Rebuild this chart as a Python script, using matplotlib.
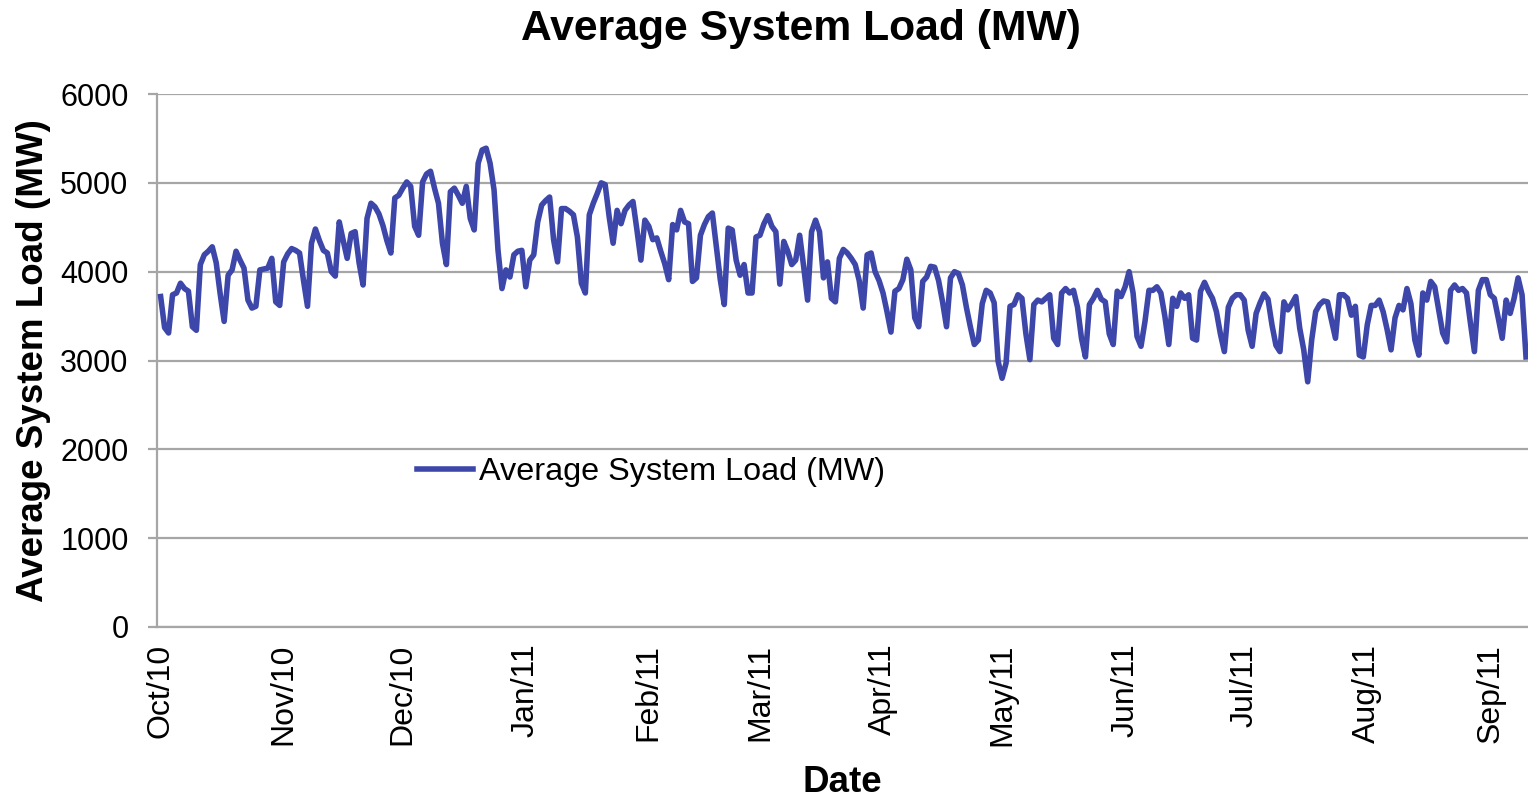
import numpy as np
import pandas as pd
import matplotlib
matplotlib.use('Agg')
import matplotlib.pyplot as plt
import matplotlib.dates as mdates

plt.rcParams['font.family'] = ['Liberation Sans', 'DejaVu Sans']

# Daily average system load (MW)
oct_10 = [3720, 3370, 3310, 3740, 3760, 3870, 3810, 3780, 3380, 3340,
          4080, 4190, 4230, 4280, 4100, 3750, 3440, 3960, 4020, 4230,
          4130, 4040, 3680, 3590, 3610, 4020, 4030, 4040, 4150, 3660, 3620]
nov_10 = [4110, 4200, 4260, 4240, 4210, 3900, 3610, 4320, 4480, 4350,
          4240, 4210, 4000, 3950, 4560, 4350, 4150, 4430, 4450, 4100,
          3850, 4600, 4770, 4730, 4650, 4520, 4350, 4210, 4830, 4860]
dec_10 = [4940, 5010, 4960, 4510, 4410, 5010, 5100, 5130, 4940, 4770,
          4320, 4080, 4900, 4940, 4860, 4770, 4960, 4600, 4470, 5220,
          5370, 5390, 5220, 4920, 4240, 3810, 4020, 3940, 4190, 4230, 4240]
jan_11 = [3830, 4130, 4190, 4560, 4750, 4800, 4840, 4360, 4110, 4710,
          4710, 4680, 4640, 4390, 3870, 3760, 4640, 4770, 4880, 5000,
          4980, 4620, 4320, 4690, 4540, 4690, 4750, 4790, 4470, 4130, 4580]
feb_11 = [4510, 4360, 4380, 4230, 4090, 3910, 4530, 4470, 4690, 4560,
          4540, 3890, 3930, 4410, 4530, 4620, 4660, 4280, 3910, 3630,
          4490, 4470, 4130, 3960, 4080, 3760, 3760, 4390]
mar_11 = [4410, 4540, 4630, 4510, 4450, 3860, 4340, 4230, 4080, 4130,
          4410, 4060, 3680, 4450, 4580, 4450, 3930, 4110, 3700, 3660,
          4150, 4250, 4210, 4150, 4080, 3900, 3590, 4190, 4210, 4000, 3900]
apr_11 = [3760, 3550, 3320, 3780, 3810, 3910, 4140, 4020, 3480, 3380,
          3890, 3940, 4060, 4050, 3900, 3660, 3380, 3930, 4000, 3980,
          3850, 3600, 3380, 3180, 3230, 3640, 3790, 3760, 3650, 2990]
may_11 = [2800, 2970, 3610, 3630, 3740, 3700, 3300, 3010, 3630, 3680,
          3660, 3700, 3740, 3250, 3180, 3760, 3810, 3760, 3790, 3600,
          3250, 3040, 3630, 3700, 3790, 3690, 3660, 3300, 3180, 3780, 3720]
jun_11 = [3830, 4000, 3760, 3270, 3160, 3440, 3790, 3790, 3830, 3760,
          3500, 3180, 3700, 3610, 3760, 3700, 3740, 3250, 3230, 3780,
          3880, 3780, 3700, 3550, 3300, 3100, 3600, 3700, 3740, 3740]
jul_11 = [3680, 3340, 3160, 3530, 3650, 3750, 3690, 3400, 3170, 3100,
          3660, 3570, 3640, 3720, 3360, 3120, 2760, 3230, 3550, 3630,
          3670, 3660, 3450, 3250, 3740, 3740, 3700, 3510, 3610, 3060, 3040]
aug_11 = [3400, 3620, 3620, 3680, 3550, 3350, 3120, 3480, 3620, 3570,
          3810, 3640, 3230, 3060, 3760, 3680, 3890, 3830, 3570, 3310,
          3210, 3790, 3850, 3790, 3810, 3760, 3420, 3100, 3790, 3910, 3910]
sep_11 = [3740, 3700, 3480, 3250, 3680, 3530, 3700, 3930, 3740, 3040]

load = (oct_10 + nov_10 + dec_10 + jan_11 + feb_11 + mar_11 + apr_11
        + may_11 + jun_11 + jul_11 + aug_11 + sep_11)
dates = pd.date_range('2010-10-01', periods=len(load), freq='D')

fig = plt.figure(figsize=(15.28, 7.98), dpi=100)
ax = fig.add_axes([157 / 1528, 1 - 627 / 798, 1 - 157 / 1528, 533 / 798])

ax.plot(dates, load, color='#3d46a9', lw=4.0, label='Average System Load (MW)',
        solid_joinstyle='round', zorder=3)

ax.set_ylim(0, 6000)
ax.set_yticks(np.arange(0, 6001, 1000))
ax.set_xlim(pd.Timestamp('2010-09-30 02:00'), pd.Timestamp('2011-09-10 12:00'))
ax.xaxis.set_major_locator(mdates.MonthLocator())
ax.xaxis.set_major_formatter(mdates.DateFormatter('%b/%y'))

ax.grid(axis='y', color='#a6a6a6', lw=1.6)
ax.set_axisbelow(True)
for s in ['top', 'right']:
    ax.spines[s].set_visible(False)
for s in ['left', 'bottom']:
    ax.spines[s].set_color('#a6a6a6')
    ax.spines[s].set_linewidth(1.6)

ax.tick_params(axis='y', labelsize=22, length=6.5, width=1.6, color='#a6a6a6', pad=14)
ax.tick_params(axis='x', labelsize=23, length=0, pad=12)
plt.setp(ax.get_xticklabels(), rotation=90, ha='center', va='top')

ax.set_ylabel('Average System Load (MW)', fontsize=26.5, fontweight='bold')
ax.set_xlabel('Date', fontsize=26.5, fontweight='bold')
ax.yaxis.set_label_coords(-0.077, 0.5)
ax.xaxis.set_label_coords(0.5, -0.258)

fig.text(801 / 1528, 1 - 29 / 798, 'Average System Load (MW)', fontsize=30.7,
         fontweight='bold', ha='center', va='center')

ax.legend(loc='center left', bbox_to_anchor=(0.19, 0.29), frameon=False,
          fontsize=23.3, borderpad=0, borderaxespad=0, handlelength=1.7,
          handletextpad=0.2)

fig.savefig('out.png', dpi=100)
